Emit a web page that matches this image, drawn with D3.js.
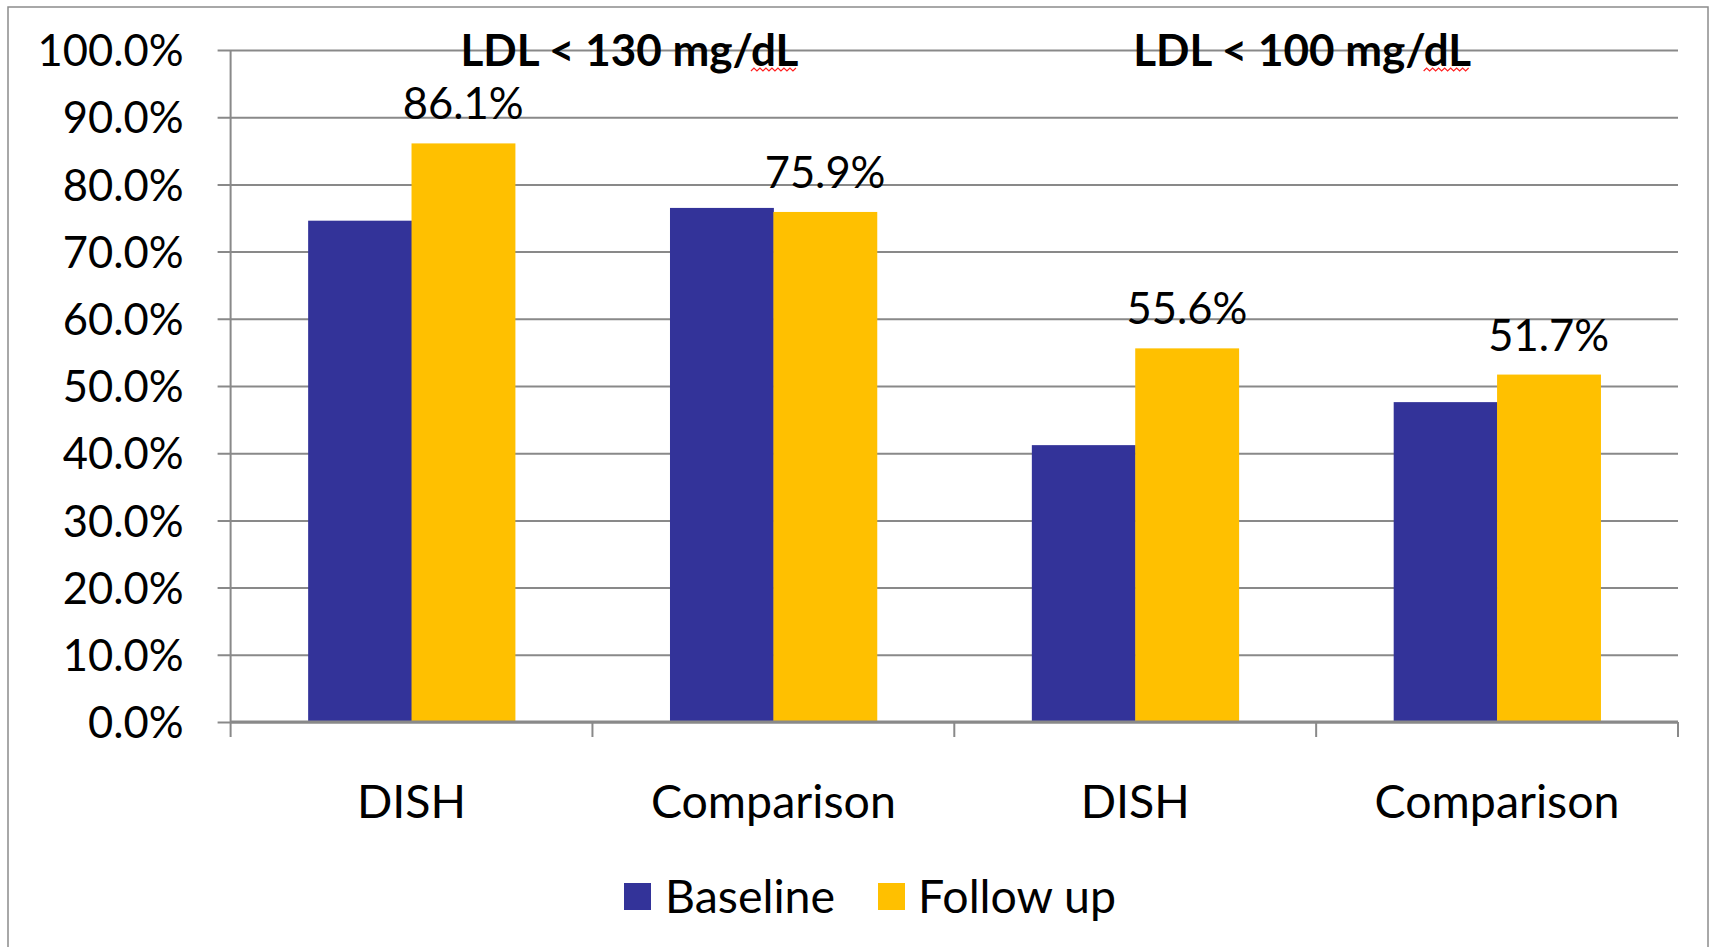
<!DOCTYPE html>
<html>
<head>
<meta charset="utf-8">
<script src="https://cdn.jsdelivr.net/npm/d3@7"></script>
<style>
  html, body { margin: 0; padding: 0; background: #fff; }
  svg { display: block; }
  text { font-family: Lato, "Open Sans", sans-serif; fill: #000; }
</style>
</head>
<body>
<div id="chart"></div>
<script>
// Share of patients reaching LDL targets, baseline vs follow-up
const categories = ["DISH", "Comparison", "DISH", "Comparison"];
const groupTitles = ["LDL < 130 mg/dL", "LDL < 100 mg/dL"];
const seriesNames = ["Baseline", "Follow up"];
const baselineValues = [74.6, 76.5, 41.2, 47.6];
const followUpValues = [86.1, 75.9, 55.6, 51.7];
const yTicks = [0, 10, 20, 30, 40, 50, 60, 70, 80, 90, 100];
const seriesColors = ["#333399", "#FFC000"];

const W = 1714, H = 947;
const plot = { left: 230.6, right: 1678, top: 50, bottom: 722 };

const svg = d3.select("#chart").append("svg")
  .attr("width", W).attr("height", H);

// chart-area frame
svg.append("rect")
  .attr("x", 8).attr("y", 7)
  .attr("width", 1700).attr("height", 960)
  .attr("fill", "#fff").attr("stroke", "#8c8c8c").attr("stroke-width", 1.5);

const x = d3.scaleBand()
  .domain(d3.range(categories.length))
  .range([plot.left, plot.right])
  .paddingInner(0).paddingOuter(0);

const xSeries = d3.scaleBand()
  .domain(d3.range(seriesNames.length))
  .range([0, x.bandwidth()])
  .paddingInner(0).paddingOuter(0.75);

const y = d3.scaleLinear().domain([0, 100]).range([plot.bottom, plot.top]);

// horizontal gridlines with short outer ticks on the left
const yAxis = d3.axisLeft(y)
  .tickValues(yTicks)
  .tickSize(-(plot.right - plot.left) - 13)
  .tickSizeOuter(0)
  .tickPadding(0)
  .tickFormat(d => d3.format(".1f")(d) + "%");

const gy = svg.append("g")
  .attr("transform", `translate(${plot.left},0)`)
  .call(yAxis);
gy.select(".domain").remove();
gy.selectAll(".tick line")
  .attr("x1", -13)
  .attr("x2", plot.right - plot.left)
  .attr("stroke", "#898989").attr("stroke-width", 2);
gy.selectAll(".tick text")
  .attr("x", -47)
  .attr("dy", "0.36em")
  .style("font-size", "43.5px")
  .style("font-family", "Lato, sans-serif")
  .attr("fill", "#000");

// vertical value axis line
svg.append("line")
  .attr("x1", plot.left).attr("x2", plot.left)
  .attr("y1", plot.top).attr("y2", plot.bottom)
  .attr("stroke", "#898989").attr("stroke-width", 2);

// bars
const rows = categories.map((c, i) => ({ i, c, vals: [baselineValues[i], followUpValues[i]] }));

const groups = svg.append("g").selectAll("g")
  .data(rows).join("g")
  .attr("transform", d => `translate(${x(d.i)},0)`);

groups.selectAll("rect")
  .data(d => d.vals.map((v, s) => ({ v, s })))
  .join("rect")
  .attr("x", d => xSeries(d.s))
  .attr("width", xSeries.bandwidth() + 0.5)
  .attr("y", d => y(d.v))
  .attr("height", d => y(0) - y(d.v))
  .attr("fill", d => seriesColors[d.s]);

// value labels on follow-up bars
groups.append("text")
  .attr("x", xSeries(1) + xSeries.bandwidth() / 2)
  .attr("y", d => y(d.vals[1]) - 24)
  .attr("text-anchor", "middle")
  .style("font-size", "43.5px")
  .text(d => d3.format(".1f")(d.vals[1]) + "%");

// category axis
const boundaries = d3.range(categories.length + 1).map(i => plot.left + i * x.bandwidth());
svg.append("line")
  .attr("x1", plot.left).attr("x2", plot.right)
  .attr("y1", plot.bottom).attr("y2", plot.bottom)
  .attr("stroke", "#898989").attr("stroke-width", 3);
svg.append("g").selectAll("line")
  .data(boundaries).join("line")
  .attr("x1", d => d).attr("x2", d => d)
  .attr("y1", plot.bottom).attr("y2", plot.bottom + 15)
  .attr("stroke", "#898989").attr("stroke-width", 2);

svg.append("g").selectAll("text")
  .data(rows).join("text")
  .attr("x", d => x(d.i) + x.bandwidth() / 2)
  .attr("y", 818)
  .attr("text-anchor", "middle")
  .style("font-size", "46.5px")
  .text(d => d.c);

// group titles
const titleOffsets = [37, -14];
const titles = svg.append("g").selectAll("text")
  .data(groupTitles).join("text")
  .attr("x", (d, g) => x(2 * g + 1) + titleOffsets[g])
  .attr("y", 66)
  .attr("text-anchor", "middle")
  .style("font-size", "44px")
  .style("font-weight", "bold")
  .text(d => d);

// proofing squiggle under "dL"
titles.each(function () {
  const node = this;
  const n = node.getNumberOfChars();
  const start = node.getStartPositionOfChar(n - 2).x;
  const end = node.getEndPositionOfChar(n - 1).x;
  const pts = [];
  let k = 0;
  for (let px = start; px <= end; px += 3, k++) pts.push([px, k % 2 ? 68 : 71]);
  svg.append("path")
    .attr("d", d3.line()(pts))
    .attr("fill", "none").attr("stroke", "#ff2020").attr("stroke-width", 1.2);
});

// legend
const legendItems = [
  { name: seriesNames[0], color: seriesColors[0], sx: 624, tx: 665 },
  { name: seriesNames[1], color: seriesColors[1], sx: 878, tx: 918 }
];
const lg = svg.append("g");
lg.selectAll("rect").data(legendItems).join("rect")
  .attr("x", d => d.sx).attr("y", 883)
  .attr("width", 27).attr("height", 27)
  .attr("fill", d => d.color);
lg.selectAll("text").data(legendItems).join("text")
  .attr("x", d => d.tx).attr("y", 913)
  .style("font-size", "46.5px")
  .text(d => d.name);
</script>
</body>
</html>
